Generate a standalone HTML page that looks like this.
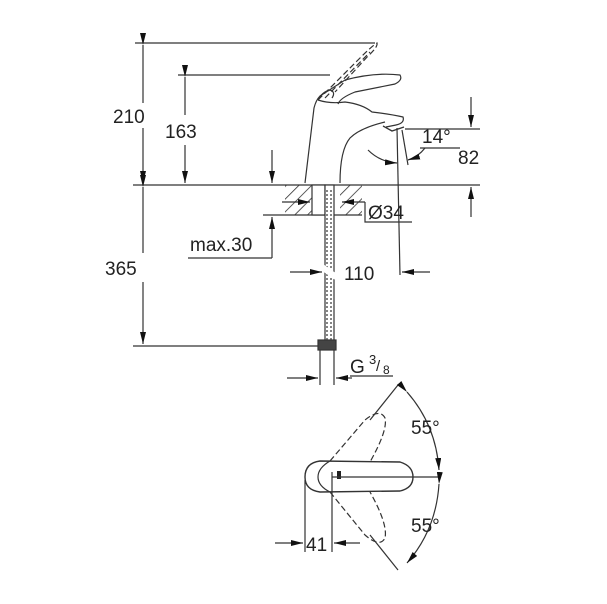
<!DOCTYPE html><html><head><style>body{margin:0;background:#fff}svg{display:block}text{font-family:"Liberation Sans",sans-serif;fill:#222}</style></head><body>
<svg width="607" height="604" viewBox="0 0 607 604" xmlns="http://www.w3.org/2000/svg">
<defs>
<marker id="a" viewBox="0 0 12 6" refX="12" refY="3" markerWidth="12" markerHeight="6" orient="auto" markerUnits="userSpaceOnUse"><path d="M0,0L12,3L0,6z" fill="#111"/></marker>
<pattern id="h" width="9" height="9" patternUnits="userSpaceOnUse" patternTransform="rotate(45)"><line x1="0" y1="0" x2="0" y2="9" stroke="#333" stroke-width="1.6"/></pattern>
</defs>
<g stroke="#333" stroke-width="1.2" fill="none">
<line x1="135" y1="43" x2="375" y2="43"/>
<line x1="178" y1="75" x2="330" y2="75"/>
<line x1="133" y1="185" x2="480" y2="185"/>
<line x1="133" y1="346" x2="322" y2="346"/>
<line x1="405" y1="129" x2="480" y2="129"/>
<line x1="143" y1="45" x2="143" y2="103" marker-start="url(#a)"/>
<line x1="143" y1="128" x2="143" y2="183" marker-end="url(#a)"/>
<line x1="185" y1="77" x2="185" y2="115" marker-start="url(#a)"/>
<line x1="185" y1="145" x2="185" y2="183" marker-end="url(#a)"/>
<line x1="143" y1="187" x2="143" y2="253" marker-start="url(#a)"/>
<line x1="143" y1="282" x2="143" y2="344" marker-end="url(#a)"/>
<line x1="471" y1="97" x2="471" y2="127" marker-end="url(#a)"/>
<line x1="471" y1="217" x2="471" y2="187" marker-end="url(#a)"/>
<line x1="272" y1="150" x2="272" y2="183" marker-end="url(#a)"/>
<line x1="272" y1="258" x2="272" y2="217" marker-end="url(#a)"/>
<line x1="188" y1="258" x2="272" y2="258"/>
<line x1="263" y1="215" x2="362" y2="215"/>
<path d="M305,183 L314,108 Q316,100 320,96 L345,80 Q375,72 400,75 Q403,80 395,84 L355,92 Q340,98 338,104"/>
<path d="M318,100 Q330,104 345,102 Q362,104 372,112 Q390,114 403,117 Q405,123 396,125 L386,127"/>
<path d="M340,183 Q340,150 350,138 Q360,128 385,122"/>
<path d="M383,126 L392,131 L404,127" stroke-width="1.3"/>
<path d="M318,100 Q322,92 330,90 Q336,92 332,98" />
<g stroke-dasharray="6,3"><path d="M318,100 L360,58 Q372,46 377,43 Q378,47 368,56 L335,92"/><path d="M325,98 L370,52"/></g>
<line x1="397" y1="128" x2="400" y2="275"/>
<line x1="402" y1="130" x2="408" y2="165"/>
<path d="M368,150 Q380,162 397,163" marker-end="url(#a)"/>
<path d="M425,148 Q418,157 408,160" marker-end="url(#a)"/>
<line x1="420" y1="148" x2="460" y2="148"/>
<rect x="285" y="185" width="27" height="30" fill="url(#h)" stroke="none"/>
<rect x="340" y="185" width="22" height="30" fill="url(#h)" stroke="none"/>
<rect x="312" y="185" width="13" height="30" fill="#fff"/>
<rect x="325" y="185" width="9" height="160" fill="#fff"/>
<line x1="327" y1="190" x2="327" y2="340" stroke-dasharray="2,2"/>
<line x1="331" y1="190" x2="331" y2="340" stroke-dasharray="2,2"/>
<line x1="322" y1="267" x2="336" y2="277" stroke="#fff" stroke-width="6"/>
<rect x="318" y="340" width="18" height="10" fill="#444"/>
<line x1="282" y1="202" x2="310" y2="202" marker-end="url(#a)"/>
<line x1="365" y1="202" x2="342" y2="202" marker-end="url(#a)"/>
<polyline points="365,202 365,222 412,222"/>
<line x1="290" y1="272" x2="322" y2="272" marker-end="url(#a)"/>
<line x1="430" y1="272" x2="402" y2="272" marker-end="url(#a)"/>
<line x1="320" y1="350" x2="320" y2="385"/>
<line x1="334" y1="350" x2="334" y2="385"/>
<line x1="287" y1="378" x2="318" y2="378" marker-end="url(#a)"/>
<line x1="352" y1="378" x2="336" y2="378" marker-end="url(#a)"/>
<line x1="350" y1="376" x2="393" y2="376"/>
<path d="M320,461 L400,462 Q413,466 413,477 Q413,488 400,491 L320,492 Q305,490 305,477 Q305,463 320,461z" stroke-width="1.4"/>
<path d="M330,461 Q318,468 318,477 Q318,486 330,492"/>
<rect x="337" y="471" width="4" height="8" fill="#222" stroke="none"/>
<g stroke-dasharray="6,3"><path d="M330,461 L365,420 Q380,408 385,418 Q388,430 370,462"/><path d="M330,492 L365,535 Q380,548 385,538 Q388,524 370,492"/></g>
<line x1="332" y1="477" x2="440" y2="477"/>
<line x1="370" y1="420" x2="398" y2="385"/>
<line x1="370" y1="535" x2="398" y2="570"/>
<path d="M407,392 Q436,425 439,470" marker-start="url(#a)" marker-end="url(#a)"/>
<path d="M439,484 Q436,530 407,563" marker-start="url(#a)" marker-end="url(#a)"/>
<line x1="305" y1="480" x2="305" y2="552"/>
<line x1="332" y1="472" x2="332" y2="552"/>
<line x1="275" y1="543" x2="303" y2="543" marker-end="url(#a)"/>
<line x1="360" y1="543" x2="334" y2="543" marker-end="url(#a)"/>
</g>
<g font-size="19">
<text x="113" y="123">210</text>
<text x="165" y="138">163</text>
<text x="422" y="143">14°</text>
<text x="458" y="164">82</text>
<text x="368" y="219">Ø34</text>
<text x="190" y="251">max.30</text>
<text x="105" y="275">365</text>
<text x="344" y="280">110</text>
<text x="350" y="373">G</text><text x="369" y="364" font-size="13">3</text><text x="376" y="371" font-size="15">/</text><text x="383" y="374" font-size="12">8</text>
<text x="411" y="434">55°</text>
<text x="411" y="532">55°</text>
<text x="306" y="551">41</text>
</g>
</svg></body></html>
